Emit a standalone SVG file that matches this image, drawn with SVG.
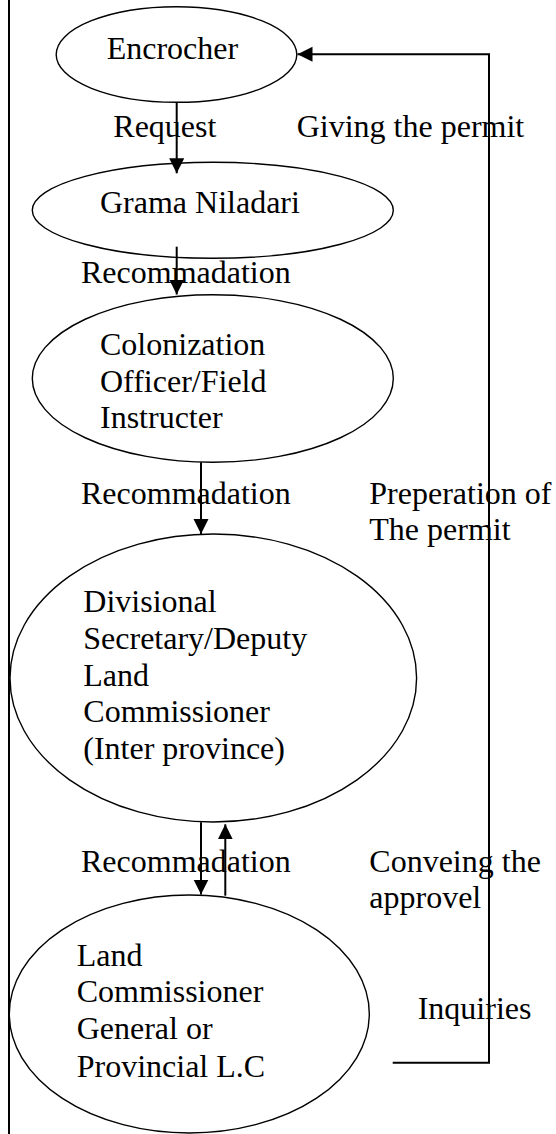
<svg xmlns="http://www.w3.org/2000/svg" width="556" height="1134" viewBox="0 0 556 1134">
<style>
text { font-family: "Liberation Serif", "Times New Roman", serif; font-size: 32px; fill: #000; }
.node { fill: #fff; stroke: #000; stroke-width: 1.4; }
.conn { fill: none; stroke: #000; stroke-width: 2; }
</style>
<defs>
<marker id="ah" markerUnits="userSpaceOnUse" markerWidth="16" markerHeight="16" refX="15" refY="7.5" orient="auto">
<path d="M0,0 L15,7.5 L0,15 z" fill="#000"/>
</marker>
</defs>
<rect x="0" y="0" width="556" height="1134" fill="#fff"/>
<line x1="9" y1="0" x2="9" y2="1134" stroke="#000" stroke-width="2"/>

<g id="n-encrocher">
<ellipse class="node" cx="176.5" cy="54.5" rx="120.3" ry="47.8"/>
<text x="106.7" y="59.3">Encrocher</text>
</g>
<g id="n-grama">
<ellipse class="node" cx="212.8" cy="210.3" rx="180.5" ry="48"/>
<text x="100" y="212.7">Grama Niladari</text>
</g>
<g id="n-colonization">
<ellipse class="node" cx="212.8" cy="378.5" rx="180.5" ry="83.8"/>
<text x="100" y="355">Colonization</text>
<text x="100" y="391.7">Officer/Field</text>
<text x="100" y="428.3">Instructer</text>
</g>
<g id="n-divisional">
<ellipse class="node" cx="213.3" cy="678" rx="203.3" ry="144"/>
<text x="83.3" y="612.3">Divisional</text>
<text x="83.3" y="649">Secretary/Deputy</text>
<text x="83.3" y="685.7">Land</text>
<text x="83.3" y="722.3">Commissioner</text>
<text x="83.3" y="759">(Inter province)</text>
</g>
<g id="n-landcommissioner">
<ellipse class="node" cx="189.3" cy="1014" rx="180" ry="119"/>
<text x="76.7" y="965.7">Land</text>
<text x="76.7" y="1002.3">Commissioner</text>
<text x="76.7" y="1039">General or</text>
<text x="76.7" y="1076.7">Provincial L.C</text>
</g>

<g id="connectors">
<line class="conn" x1="176.7" y1="102.3" x2="176.7" y2="173.3" marker-end="url(#ah)"/>
<line class="conn" x1="176.7" y1="246.7" x2="176.7" y2="294.5" marker-end="url(#ah)"/>
<line class="conn" x1="201" y1="462.3" x2="201" y2="534" marker-end="url(#ah)"/>
<line class="conn" x1="201" y1="822.3" x2="201" y2="894.5" marker-end="url(#ah)"/>
<line class="conn" x1="225.3" y1="895.7" x2="225.3" y2="824.3" marker-end="url(#ah)"/>
<polyline class="conn" points="392.7,1062.7 489,1062.7 489,54.3 297.5,54.3" marker-end="url(#ah)"/>
</g>

<g id="labels">
<text x="113.3" y="136.7">Request</text>
<text x="296.7" y="136.7">Giving the permit</text>
<text x="81" y="283.3">Recommadation</text>
<text x="81" y="504.3">Recommadation</text>
<text x="369.3" y="504.3">Preperation of</text>
<text x="369.3" y="540">The permit</text>
<text x="81" y="872.3">Recommadation</text>
<text x="369.3" y="872.3">Conveing the</text>
<text x="369.3" y="907.7">approvel</text>
<text x="417.7" y="1019">Inquiries</text>
</g>
</svg>
